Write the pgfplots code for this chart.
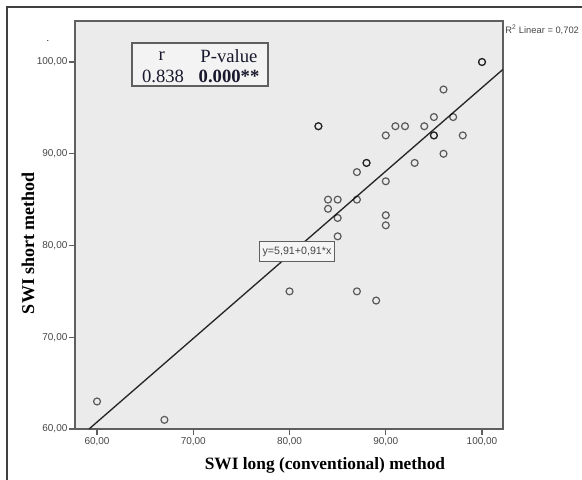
\documentclass[border=0pt]{standalone}
\usepackage{fontspec}
\setmainfont{Liberation Serif}
\setsansfont{Liberation Sans}
\usepackage{pgfplots}
\pgfplotsset{compat=1.18}

\definecolor{plotbg}{RGB}{235,235,235}
\definecolor{axisgray}{RGB}{95,95,95}
\definecolor{ticktext}{RGB}{70,70,70}
\definecolor{navytext}{RGB}{25,25,45}

\begin{document}
\begin{tikzpicture}
\begin{axis}[
  at={(0pt,0pt)}, anchor=south west,
  scale only axis, width=321pt, height=306pt,
  xmin=57.71, xmax=102.18, ymin=60, ymax=104.47,
  xtick={60,70,80,90,100}, ytick={60,70,80,90,100},
  xtick pos=left, ytick pos=left, tick align=outside,
  major tick length=4.5pt,
  axis background/.style={fill=plotbg},
  axis line style={axisgray, line width=0.9pt},
  every tick/.style={axisgray, line width=0.9pt},
  tick label style={font=\sffamily\fontsize{7.5}{8}\selectfont, text=ticktext},
  xticklabel style={inner sep=1pt, yshift=-0.5pt},
  yticklabel style={inner sep=1pt},
  /pgf/number format/fixed,
  /pgf/number format/fixed zerofill,
  /pgf/number format/precision=2,
  /pgf/number format/use comma,
  /pgf/number format/1000 sep={},
  /pgf/number format/assume math mode=true,
]
% regression line
\addplot[black!85, line width=1pt] coordinates {(59.17,60) (102.18,99.2)};
% observations (repeated pairs drawn twice)
\addplot[only marks, mark=o, mark size=2.6pt, draw=black,
  mark options={line width=0.9pt, draw opacity=0.62}] coordinates {
  (60,63) (67,61) (80,75) (83,93) (83,93) (84,85) (84,84)
  (85,85) (85,83) (85,81) (87,85) (87,88) (87,75) (88,89) (88,89)
  (89,74) (90,92) (90,87) (90,83.3) (90,82.2) (91,93) (92,93)
  (93,89) (94,93) (95,94) (95,92) (95,92) (96,97) (96,90)
  (97,94) (98,92) (100,100) (100,100)
};
\end{axis}

% outer frame (cut off at right and bottom)
\draw[black!75, line width=0.8pt] (-51pt,-40pt) -- (-51pt,316.5pt) -- (390pt,316.5pt);
\node[font=\sffamily\fontsize{7}{8}\selectfont] at (-20.25pt,291pt) {.};

% axis titles
\node[font=\bfseries\fontsize{13.5}{15}\selectfont, rotate=90] at (-35.25pt,139.5pt) {SWI short method};
\node[font=\bfseries\fontsize{13}{15}\selectfont] at (187.5pt,-27pt) {SWI long (conventional) method};

% correlation table
\draw[axisgray, line width=0.9pt, fill=plotbg!60!white] (42.75pt,257.25pt) rectangle (144.75pt,289.5pt);
\node[font=\fontsize{14}{16}\selectfont, text=navytext] at (65pt,280pt) {r};
\node[font=\fontsize{14}{16}\selectfont, text=navytext] at (115.5pt,280pt) {P-value};
\node[font=\fontsize{14}{16}\selectfont, text=navytext] at (66pt,264.5pt) {0.838};
\node[font=\bfseries\fontsize{14}{16}\selectfont, text=navytext] at (115.5pt,264.5pt) {0.000**};

% regression equation
\node[draw=axisgray, line width=0.8pt, fill=plotbg!50!white, inner xsep=2.5pt,
  minimum height=15pt, font=\sffamily\fontsize{8}{9}\selectfont, text=ticktext]
  at (166.5pt,133.1pt) {y=5,91+0,91*x};

% fit label
\node[anchor=west, inner sep=0pt, font=\sffamily\fontsize{7}{8}\selectfont, text=ticktext]
  at (322.5pt,299.25pt) {R\textsuperscript{2} Linear = 0,702};

\pgfresetboundingbox
\useasboundingbox (-56.25pt,-37.5pt) rectangle (380.25pt,321.75pt);
\end{tikzpicture}
\end{document}
